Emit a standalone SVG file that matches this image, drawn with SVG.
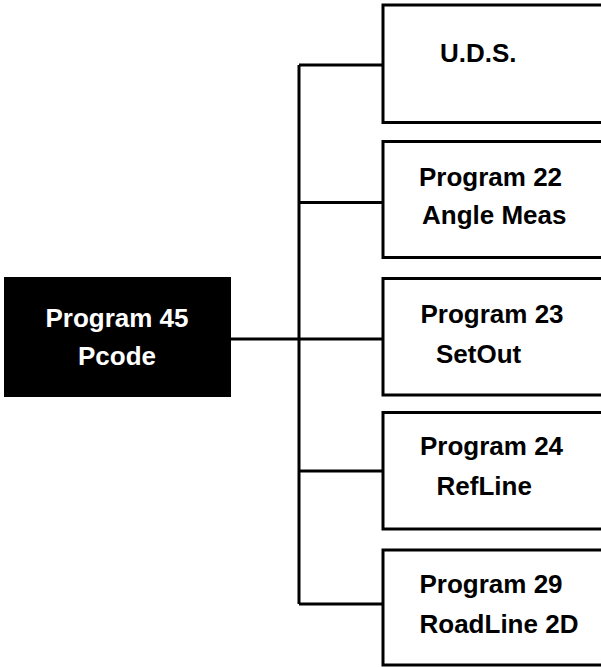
<svg xmlns="http://www.w3.org/2000/svg" width="601" height="667" viewBox="0 0 601 667">
<style>
.box{fill:#fff;stroke:#000;stroke-width:3}
.root{fill:#000;stroke:none}
.t{font-family:"Liberation Sans",Arial,sans-serif;font-weight:bold;font-size:26px;fill:#000}
.w{fill:#fff;text-anchor:middle}
.c{fill:none;stroke:#000;stroke-width:3}
</style>
<rect width="601" height="667" fill="#fff"/>
<g id="connectors">
<path class="c" d="M231 339H299M299 65V604M299 65H383M299 202.5H383M299 339H383M299 471H383M299 604H383"/>
</g>
<g id="root">
<rect class="root" x="4" y="277" width="227" height="120"/>
<text class="t w" x="117" y="327">Program 45</text>
<text class="t w" x="117" y="365">Pcode</text>
</g>
<g id="uds">
<rect class="box" x="383" y="5" width="240" height="117.5"/>
<text class="t" x="440" y="62">U.D.S.</text>
</g>
<g id="p22">
<rect class="box" x="383" y="141.5" width="240" height="116"/>
<text class="t" x="419" y="186">Program 22</text>
<text class="t" x="422" y="224">Angle Meas</text>
</g>
<g id="p23">
<rect class="box" x="383" y="278.5" width="240" height="116.5"/>
<text class="t" x="420.5" y="323">Program 23</text>
<text class="t" x="436" y="363">SetOut</text>
</g>
<g id="p24">
<rect class="box" x="383" y="412.5" width="240" height="116.5"/>
<text class="t" x="420" y="455">Program 24</text>
<text class="t" x="436.5" y="495">RefLine</text>
</g>
<g id="p29">
<rect class="box" x="383" y="550" width="240" height="115"/>
<text class="t" x="419.5" y="593">Program 29</text>
<text class="t" x="419.5" y="633">RoadLine 2D</text>
</g>
</svg>
